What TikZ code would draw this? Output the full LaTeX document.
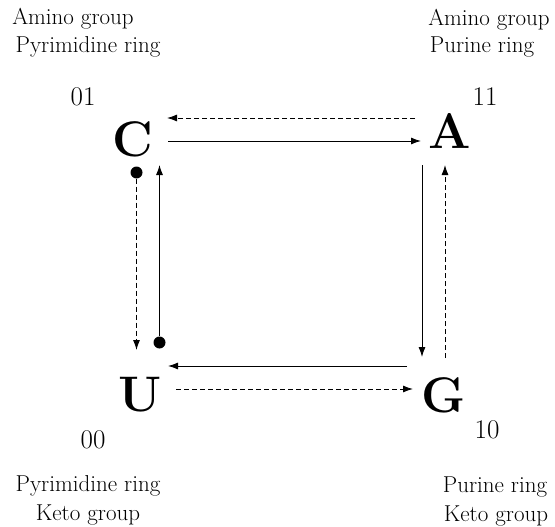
\documentclass[tikz,border=0pt]{standalone}
\usetikzlibrary{arrows.meta}
\begin{document}
\begin{tikzpicture}[x=1pt,y=-1pt,
  lbl/.style={font=\fontsize{23}{23}\selectfont, inner sep=0pt, anchor=base},
  num/.style={font=\fontsize{27}{27}\selectfont, inner sep=0pt},
  base/.style={font=\fontsize{50}{50}\selectfont\bfseries, inner sep=0pt},
  arr/.style={line width=0.9pt, -{Latex[length=10pt,width=7pt]}},
  darr/.style={arr, dash pattern=on 5pt off 3pt},
  dotc/.style={circle, fill=black, inner sep=0pt, minimum size=12pt}]
\useasboundingbox (0,0) rectangle (555,527);
% bases
\node[base] (C) at (133,139) {C};
\node[base] (A) at (450,131) {A};
\node[base] (U) at (140,395) {U};
\node[base] (G) at (444,395) {G};
% codes
\node[num] (n01) at (83,97) {01};
\node[num] (n11) at (485,97) {11};
\node[num] (n00) at (93,440) {00};
\node[num] (n10) at (487,430) {10};
% labels
\node[lbl] (tl1) at (73,25) {Amino group};
\node[lbl] (tl2) at (88,53) {Pyrimidine ring};
\node[lbl] (tr1) at (489,26) {Amino group};
\node[lbl] (tr2) at (482,53) {Purine ring};
\node[lbl] (bl1) at (88,491) {Pyrimidine ring};
\node[lbl] (bl2) at (88,520) {Keto group};
\node[lbl] (br1) at (495,492) {Purine ring};
\node[lbl] (br2) at (496,521) {Keto group};
% connector ends
\coordinate (t1s) at (415,118); \coordinate (t1e) at (167,118);
\coordinate (t2s) at (168,141); \coordinate (t2e) at (421,141);
\node[dotc] (d1) at (136.5,172.5) {};
\coordinate (l1e) at (136.5,350);
\node[dotc] (d2) at (159.5,342.5) {};
\coordinate (l2e) at (159.5,165);
\coordinate (r1s) at (422,165); \coordinate (r1e) at (422,357);
\coordinate (r2s) at (445,358); \coordinate (r2e) at (445,165);
\coordinate (b1s) at (407,366); \coordinate (b1e) at (168,366);
\coordinate (b2s) at (176,389); \coordinate (b2e) at (413,389);
% connectors
\draw[darr] (t1s) -- (t1e);
\draw[arr] (t2s) -- (t2e);
\draw[darr] (d1) -- (l1e);
\draw[arr] (d2) -- (l2e);
\draw[arr] (r1s) -- (r1e);
\draw[darr] (r2s) -- (r2e);
\draw[arr] (b1s) -- (b1e);
\draw[darr] (b2s) -- (b2e);
\end{tikzpicture}
\end{document}
